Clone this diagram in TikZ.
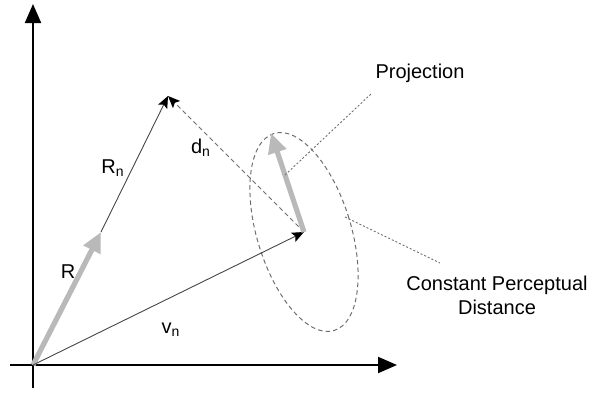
\documentclass[tikz,border=0pt]{standalone}
\usepackage{fontspec}
\setmainfont{Liberation Sans}
\usepackage{tikz}
\usetikzlibrary{arrows.meta}
\definecolor{grisvector}{RGB}{185,185,185}
\definecolor{gristrazo}{RGB}{70,70,70}
\definecolor{grisguia}{RGB}{110,110,110}

\begin{document}
\begin{tikzpicture}[x=0.5pt, y=0.5pt,
  eje/.style={line width=1pt, -{Triangle[length=9.5pt, width=8pt]}},
  vec/.style={line width=0.45pt, color=gristrazo,
              -{Stealth[length=6pt, width=5pt, inset=1.2pt, black]}},
  gris/.style={line width=2.6pt, color=grisvector,
               -{Triangle[length=10pt, width=9pt]}},
  guia/.style={line width=0.45pt, color=grisguia, dash pattern=on 1pt off 1pt},
  rayas/.style={line width=0.5pt, color=grisguia, dash pattern=on 2.2pt off 1.6pt},
  etiq/.style={font=\fontsize{10}{12}\selectfont, inner sep=1pt}]
  \useasboundingbox (0,0) rectangle (597,393);
  % Puntos
  \coordinate (O) at (33,28);
  \coordinate (xini) at (10,28);
  \coordinate (xfin) at (397,28);
  \coordinate (yini) at (33,5);
  \coordinate (yfin) at (33,389);
  \coordinate (Rtip) at (101,161);
  \coordinate (Rntip) at (168,297);
  \coordinate (vntip) at (304,161);
  \coordinate (ptip) at (271,260);
  \coordinate (pini) at (285,218);
  \coordinate (pfin) at (372,300);
  \coordinate (cini) at (345,176);
  \coordinate (cfin) at (440,130);
  % Ejes
  \draw[eje] (xini) -- (xfin);
  \draw[eje] (yini) -- (yfin);
  % Elipse
  \draw[rayas, rotate around={17:(vntip)}] (vntip)
       ellipse [x radius=23.5pt, y radius=51.5pt];
  % Vectores
  \draw[gris] (O) -- (Rtip);
  \draw[vec] (Rtip) -- (Rntip);
  \draw[vec] (O) -- (vntip);
  \draw[rayas, -{Stealth[length=6pt, width=5pt, inset=1.2pt, black]}]
       (vntip) -- (Rntip);
  \draw[gris] (vntip) -- (ptip);
  % Guias
  \draw[guia] (pini) -- (pfin);
  \draw[guia] (cini) -- (cfin);
  % Etiquetas
  \node[etiq] (lR) at (68,121) {R};
  \node[etiq] (lRn) at (113,225) {R\textsubscript{n}};
  \node[etiq] (ldn) at (201,245) {d\textsubscript{n}};
  \node[etiq] (lvn) at (171,63) {v\textsubscript{n}};
  \node[etiq] (lproy) at (420,320) {Projection};
  \node[etiq, align=center] (ldist) at (497,98)
       {Constant Perceptual\\Distance};
\end{tikzpicture}
\end{document}
